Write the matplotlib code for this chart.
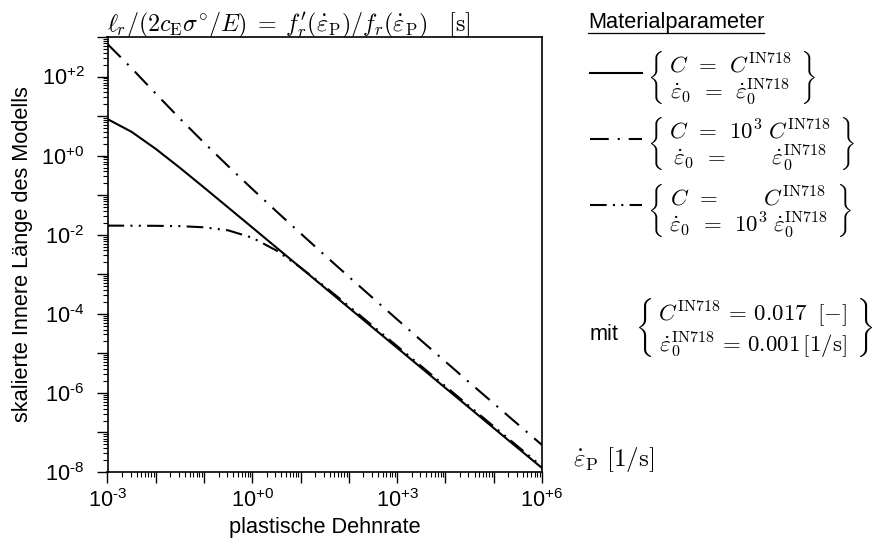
import matplotlib
matplotlib.use('Agg')
import numpy as np
import matplotlib.pyplot as plt
from matplotlib.lines import Line2D
from matplotlib.ticker import LogLocator, FuncFormatter, NullFormatter

plt.rcParams['font.family'] = 'Liberation Sans'
plt.rcParams['mathtext.fontset'] = 'custom'
plt.rcParams['mathtext.rm'] = 'Liberation Sans'

# plastische Dehnrate [1/s], halbe Dekaden
rate = [1e-3, 3.16e-3, 1e-2, 3.16e-2, 1e-1, 3.16e-1, 1e0, 3.16e0, 1e1, 3.16e1,
        1e2, 3.16e2, 1e3, 3.16e3, 1e4, 3.16e4, 1e5, 3.16e5, 1e6]

# C = C_IN718, eps0 = eps0_IN718
len_base = [8.40, 3.99, 1.48, 0.492, 0.156, 0.0488, 0.0152, 0.00473, 0.00147, 4.57e-4,
            1.42e-4, 4.42e-5, 1.38e-5, 4.29e-6, 1.33e-6, 4.16e-7, 1.29e-7, 4.03e-8, 1.26e-8]
# C = 1e3 C_IN718
len_C = [665, 162, 37.0, 8.65, 2.12, 0.542, 0.143, 0.0389, 0.0108, 3.03e-3,
         8.64e-4, 2.49e-4, 7.21e-5, 2.10e-5, 6.18e-6, 1.82e-6, 5.41e-7, 1.61e-7, 4.81e-8]
# eps0 = 1e3 eps0_IN718
len_eps = [0.0170, 0.0169, 0.0168, 0.0165, 0.0154, 0.0129, 0.00840, 0.00399, 0.00148, 4.92e-4,
           1.56e-4, 4.88e-5, 1.52e-5, 4.73e-6, 1.47e-6, 4.57e-7, 1.42e-7, 4.42e-8, 1.38e-8]

x_labeled = [-3, 0, 3, 6]
y_labeled = [-8, -6, -4, -2, 0, 2]

W, H = 890, 541
fig = plt.figure(figsize=(W / 100, H / 100), dpi=100)
ax = fig.add_axes([107.5 / W, 1 - 472 / H, (542 - 107.5) / W, (472 - 37) / H])

lw = 1.5
l1, = ax.plot(rate, len_base, color='black', lw=lw, ls='-')
l2, = ax.plot(rate, len_C, color='black', lw=lw, ls=(0, (9, 4.3, 1, 4.3)))
l3, = ax.plot(rate, len_eps, color='black', lw=lw, ls=(0, (8, 3, 1, 3, 1, 3)))
ax.set_xscale('log')
ax.set_yscale('log')
ax.set_xlim(1e-3, 1e6)
ax.set_ylim(1e-8, 1e3)


def make_fmt(shown):
    def fmt(v, pos):
        e = int(round(np.log10(v)))
        if e in shown:
            sign = '+' if e >= 0 else '\u2010'
            return r'$\mathregular{10^{%s%d}}$' % (sign, abs(e))
        return ''
    return fmt


for axis, shown in ((ax.xaxis, x_labeled), (ax.yaxis, y_labeled)):
    axis.set_major_locator(LogLocator(base=10, numticks=30))
    axis.set_minor_locator(LogLocator(base=10, subs=np.arange(2, 10), numticks=30))
    axis.set_major_formatter(FuncFormatter(make_fmt(shown)))
    axis.set_minor_formatter(NullFormatter())

ax.tick_params(which='major', direction='out', length=8, width=1.0, labelsize=15.7)
ax.tick_params(axis='y', which='major', pad=8.5)
ax.tick_params(axis='x', which='major', pad=4)
ax.tick_params(which='minor', direction='out', length=3.5, width=0.8)
for s in ax.spines.values():
    s.set_linewidth(1.2)

ax.set_xlabel('plastische Dehnrate', fontsize=15.7, labelpad=4)
ax.set_ylabel('skalierte Innere Länge des Modells', fontsize=15.7, labelpad=6)

title = (r'$\ell_r/(2c_{\mathrm{E}}\sigma^{\circ}/E)\;=\;f_r^{\prime}(\dot{\varepsilon}_{\mathrm{P}})'
         r'/f_r(\dot{\varepsilon}_{\mathrm{P}})\quad[\mathrm{s}]$')
fig.text(107 / W, 1 - 31 / H, title, fontsize=17.3, ha='left', va='baseline', math_fontfamily='cm')

fig.text(573 / W, 1 - 460 / H, r'$\dot{\varepsilon}_{\mathrm{P}}\ [1/\mathrm{s}]$', fontsize=18,
         ha='left', va='center', math_fontfamily='cm')

# Legende
head = fig.text(588 / W, 1 - 28 / H, 'Materialparameter', fontsize=15.7, ha='left', va='baseline')

lab1 = (r'$\genfrac{\{}{\}}{0}{0}{\;C\;\,=\;\,C^{\mathrm{IN718}}\;}'
        r'{\;\dot{\varepsilon}_0\;\,=\;\,\dot{\varepsilon}_0^{\mathrm{IN718}}\;}$')
lab2 = (r'$\genfrac{\{}{\}}{0}{0}{\;C\;\,=\;\,10^3\;C^{\mathrm{IN718}}\;}'
        r'{\;\dot{\varepsilon}_0\;\,=\;\,\quad\enspace\,\dot{\varepsilon}_0^{\mathrm{IN718}}\;}$')
lab3 = (r'$\genfrac{\{}{\}}{0}{0}{\;C\;\,=\;\,\quad\enspace\,C^{\mathrm{IN718}}\;}'
        r'{\;\dot{\varepsilon}_0\;\,=\;\,10^3\;\dot{\varepsilon}_0^{\mathrm{IN718}}\;}$')
leg = fig.legend(handles=[l1, l2, l3], labels=[lab1, lab2, lab3], loc='upper left',
                 bbox_to_anchor=(590 / W, 1 - 50 / H), frameon=False, fontsize=16.5,
                 handlelength=2.27, handletextpad=0.22, labelspacing=0.4,
                 borderpad=0, borderaxespad=0)
for t in leg.get_texts():
    t.set_math_fontfamily('cm')

fig.text(590 / W, 1 - 335 / H, 'mit', fontsize=15.7, ha='left', va='center')
mit = (r'$\genfrac{\{}{\}}{0}{0}{\;C^{\mathrm{IN718}}\,=\,0.017\;\;[-]\;}'
       r'{\;\dot{\varepsilon}_0^{\mathrm{IN718}}\,=\,0.001\,[1/\mathrm{s}]\;}$')
fig.text(635 / W, 1 - 328 / H, mit, fontsize=16.5, ha='left', va='center', math_fontfamily='cm')

fig.canvas.draw()
bb = head.get_window_extent().transformed(fig.transFigure.inverted())
fig.add_artist(Line2D([bb.x0, bb.x1], [1 - 33 / H, 1 - 33 / H], color='black', lw=0.9,
                      transform=fig.transFigure))

fig.savefig('out.png', dpi=100)
